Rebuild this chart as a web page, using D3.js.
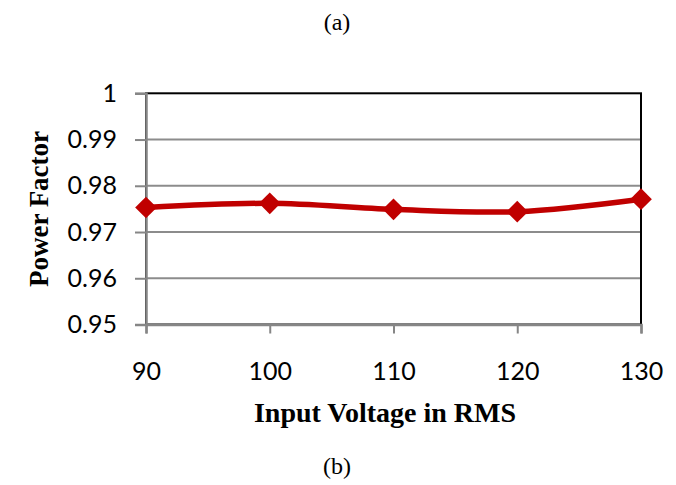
<!DOCTYPE html>
<html><head><meta charset="utf-8">
<script src="https://cdn.jsdelivr.net/npm/d3@7"></script>
<style>body{margin:0;background:#fff}svg{display:block}</style>
</head><body>
<script>
const voltages = [90, 100, 110, 120, 130];
const powerFactor = [0.9753, 0.9762, 0.9749, 0.9744, 0.9771];
const yTicks = [0.95, 0.96, 0.97, 0.98, 0.99, 1];
const yTickLabels = ["0.95", "0.96", "0.97", "0.98", "0.99", "1"];
const xTickLabels = ["90", "100", "110", "120", "130"];

const W = 676, H = 485;
const svg = d3.select("body").append("svg").attr("width", W).attr("height", H);
const x = d3.scaleLinear().domain([90, 130]).range([146, 641]);
const y = d3.scaleLinear().domain([0.95, 1]).range([324.5, 93.3]);

// gridlines
svg.append("g").selectAll("line").data(yTicks.slice(1, -1)).join("line")
  .attr("x1", x(90)).attr("x2", x(130)).attr("y1", d => y(d)).attr("y2", d => y(d))
  .attr("stroke", "#8c8c8c").attr("stroke-width", 2);
// plot border
svg.append("rect").attr("x", x(90)).attr("y", y(1)).attr("width", x(130) - x(90)).attr("height", y(0.95) - y(1))
  .attr("fill", "none").attr("stroke", "#000").attr("stroke-width", 2);

// axes
const yAxis = d3.axisLeft(y).tickValues(yTicks).tickSize(11).tickPadding(18)
  .tickFormat((d, i) => yTickLabels[i]);
const xAxis = d3.axisBottom(x).tickValues(voltages).tickSize(9).tickPadding(29)
  .tickFormat((d, i) => xTickLabels[i]);
const gy = svg.append("g").attr("transform", `translate(${x(90)},0)`).call(yAxis);
const gx = svg.append("g").attr("transform", `translate(0,${y(0.95)})`).call(xAxis);
[gx, gy].forEach(g => {
  g.select(".domain").attr("stroke", "#868686").attr("stroke-width", 2.5);
  g.selectAll(".tick line").attr("stroke", "#868686").attr("stroke-width", 2);
  g.selectAll("text").attr("font-family", "Lato, 'Open Sans', sans-serif").attr("font-size", 25).attr("fill", "#000");
});

// line
const data = voltages.map((v, i) => [v, powerFactor[i]]);
svg.append("path").datum(data)
  .attr("d", d3.line().x(d => x(d[0])).y(d => y(d[1])).curve(d3.curveCatmullRom.alpha(0)))
  .attr("fill", "none").attr("stroke", "#c00000").attr("stroke-width", 5.5);
svg.append("g").selectAll("path").data(data).join("path")
  .attr("transform", d => `translate(${x(d[0])},${y(d[1])})`)
  .attr("d", d3.symbol(d3.symbolDiamond2, 300)())
  .attr("fill", "#c00000");

// titles
const serif = "'Liberation Serif', 'Times New Roman', serif";
svg.append("text").attr("x", 385).attr("y", 422).attr("text-anchor", "middle")
  .attr("font-family", serif).attr("font-weight", "bold").attr("font-size", 28).text("Input Voltage in RMS");
svg.append("text").attr("transform", "translate(48,209) rotate(-90)").attr("text-anchor", "middle")
  .attr("font-family", serif).attr("font-weight", "bold").attr("font-size", 27).text("Power Factor");
svg.append("text").attr("x", 337).attr("y", 30).attr("text-anchor", "middle")
  .attr("font-family", serif).attr("font-size", 24).text("(a)");
svg.append("text").attr("x", 337).attr("y", 474).attr("text-anchor", "middle")
  .attr("font-family", serif).attr("font-size", 24).text("(b)");
</script>
</body></html>
